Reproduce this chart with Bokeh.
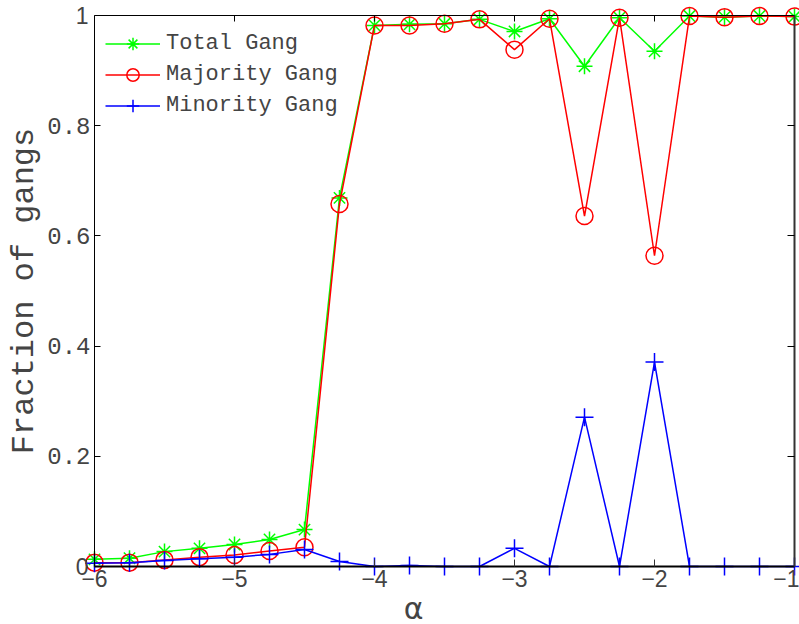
from bokeh.plotting import figure
from bokeh.models import LinearAxis, Range1d, FixedTicker, Legend, LegendItem
from bokeh.embed import file_html
from bokeh.resources import INLINE

# Exponent alpha and the fraction of agents belonging to gangs
alpha = [-6.0, -5.75, -5.5, -5.25, -5.0, -4.75, -4.5, -4.25, -4.0, -3.75, -3.5,
         -3.25, -3.0, -2.75, -2.5, -2.25, -2.0, -1.75, -1.5, -1.25, -1.0]
total_gang = [0.013, 0.015, 0.027, 0.033, 0.040, 0.049, 0.067, 0.669, 0.982, 0.984, 0.985,
              0.993, 0.971, 0.994, 0.908, 0.996, 0.935, 0.999, 0.997, 0.999, 0.998]
majority_gang = [0.007, 0.007, 0.012, 0.017, 0.021, 0.028, 0.035, 0.658, 0.982, 0.982, 0.985,
                 0.993, 0.938, 0.994, 0.636, 0.996, 0.564, 0.999, 0.997, 0.999, 0.998]
minority_gang = [0.006, 0.007, 0.011, 0.014, 0.017, 0.022, 0.031, 0.009, 0.0, 0.002, 0.0,
                 0.0, 0.033, 0.0, 0.271, 0.0, 0.371, 0.0, 0.0, 0.0, 0.0]

x_min, x_max = -6, -1
y_min, y_max = 0, 1
x_ticks = [-6, -5, -4, -3, -2, -1]
x_tick_labels = ["\u22126", "\u22125", "\u22124", "\u22123", "\u22122", "\u22121"]
y_inner_ticks = [0.2, 0.4, 0.6, 0.8]
y_inner_labels = ["0.2", "0.4", "0.6", "0.8"]
y_end_ticks = [0, 1]
y_end_labels = ["0", "1"]
x_title = "\u03b1"
x_title_pos = -3.72
y_title = "Fraction of gangs"

MONO = "Liberation Mono"
SANS = "Liberation Sans"

W, H = 799, 624
# The plotting box [-6,-1]x[0,1] sits at pixels x 94..794, y 15..566 of the canvas.
# The frame covers the whole canvas and the box axes are pinned to the box edges,
# so the tick labels, titles and edge markers are all drawn inside the frame.
BOX_L, BOX_R, BOX_T, BOX_B = 94, 794, 15, 566
PX_X = (BOX_R - BOX_L) / (x_max - x_min)
PX_Y = (BOX_B - BOX_T) / (y_max - y_min)

p = figure(width=W, height=H, output_backend="svg", toolbar_location=None,
           x_range=Range1d(x_min - BOX_L / PX_X, x_max + (W - BOX_R) / PX_X),
           y_range=Range1d(y_min - (H - BOX_B) / PX_Y, y_max + BOX_T / PX_Y),
           x_axis_type=None, y_axis_type=None,
           min_border_left=0, min_border_right=0, min_border_top=0, min_border_bottom=0)
p.grid.visible = False
p.outline_line_color = None
p.background_fill_color = "white"
p.border_fill_color = "white"


def box_axis(loc, ticks, span, **kw):
    return LinearAxis(fixed_location=loc, bounds=span, ticker=FixedTicker(ticks=ticks),
                      major_tick_out=0, minor_tick_line_color=None, **kw)


XS, YS = (x_min, x_max), (y_min, y_max)

# Bottom axis with tick labels
bottom = box_axis(y_min, x_ticks, XS, major_tick_in=7, axis_line_width=2,
                  axis_line_color="black", major_tick_line_color="#333333",
                  major_label_overrides=dict(zip(x_ticks, x_tick_labels)),
                  major_label_text_font=SANS, major_label_text_font_size="23px",
                  major_label_standoff=3)
p.add_layout(bottom, "below")

# Axis title under the bottom axis
xtitle = box_axis(y_min, [x_title_pos], XS, major_tick_in=0, axis_line_color=None,
                  major_tick_line_color=None,
                  major_label_overrides={x_title_pos: x_title},
                  major_label_text_font="DejaVu Sans", major_label_text_font_size="30px",
                  major_label_standoff=24)
p.add_layout(xtitle, "below")

# Left axis: monospaced interior labels and the y title
left = box_axis(x_min, y_inner_ticks, YS, major_tick_in=6, axis_line_color="black",
                major_label_overrides=dict(zip(y_inner_ticks, y_inner_labels)),
                major_label_text_font=MONO, major_label_text_font_size="24px",
                major_label_standoff=4,
                axis_label=y_title, axis_label_text_font=MONO,
                axis_label_text_font_size="32px", axis_label_text_font_style="normal",
                axis_label_standoff=1)
p.add_layout(left, "left")

# End labels of the y axis
yends = box_axis(x_min, y_end_ticks, YS, major_tick_in=0, axis_line_color=None,
                 major_tick_line_color=None,
                 major_label_overrides=dict(zip(y_end_ticks, y_end_labels)),
                 major_label_text_font=SANS, major_label_text_font_size="23px",
                 major_label_standoff=6)
p.add_layout(yends, "left")

# Top and right sides of the box with inward ticks only
top = box_axis(y_max, x_ticks, XS, major_tick_in=6, axis_line_color="black",
               major_label_text_color=None)
right = box_axis(x_max, y_inner_ticks, YS, major_tick_in=7, axis_line_color="#333333",
                 axis_line_width=2, major_label_text_color=None)
p.add_layout(top, "above")
p.add_layout(right, "right")

GREEN, RED, BLUE = "#00ff00", "#ff0000", "#0000ff"

l1 = p.line(alpha, total_gang, line_color=GREEN, line_width=1.5)
m1 = p.scatter(alpha, total_gang, marker="asterisk", size=16, line_color=GREEN, line_width=1.5)
l2 = p.line(alpha, majority_gang, line_color=RED, line_width=1.5)
m2 = p.scatter(alpha, majority_gang, marker="circle", size=17, line_color=RED,
               fill_color=None, line_width=1.5)
l3 = p.line(alpha, minority_gang, line_color=BLUE, line_width=1.5)
m3 = p.scatter(alpha, minority_gang, marker="cross", size=18, line_color=BLUE, line_width=1.5)

ROW_H = 31
legend = Legend(items=[LegendItem(label="Total Gang", renderers=[l1, m1]),
                       LegendItem(label="Majority Gang", renderers=[l2, m2]),
                       LegendItem(label="Minority Gang", renderers=[l3, m3])],
                location=(105, H - 28 - 3 * ROW_H), margin=0, padding=0, spacing=0,
                glyph_width=55, glyph_height=ROW_H, label_height=ROW_H, label_standoff=6,
                label_text_font=MONO, label_text_font_size="22px",
                border_line_alpha=0, background_fill_alpha=0)
p.add_layout(legend)

open("out.html", "w").write(file_html(p, INLINE))
